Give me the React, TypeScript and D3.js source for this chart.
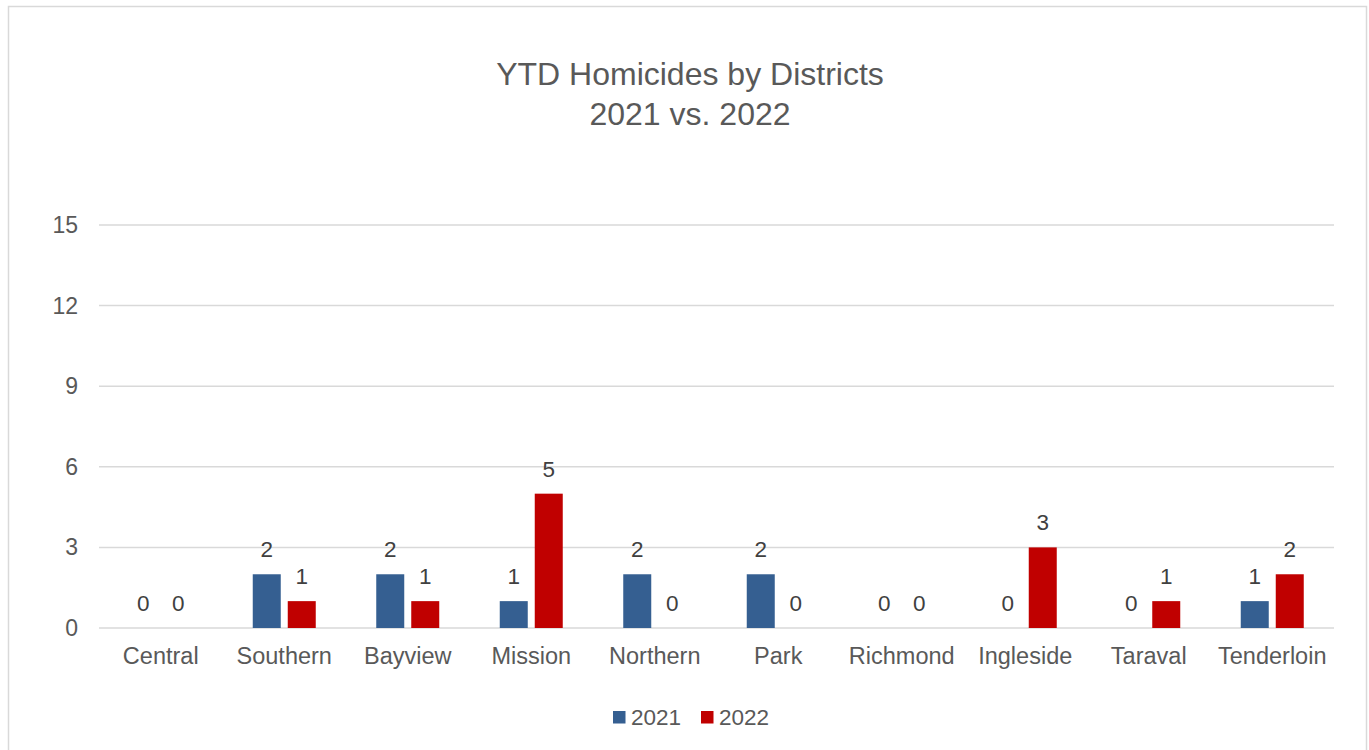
import React from "react";
import * as d3 from "d3";

const categories = ["Central", "Southern", "Bayview", "Mission", "Northern", "Park", "Richmond", "Ingleside", "Taraval", "Tenderloin"];
const series2021 = [0, 2, 2, 1, 2, 2, 0, 0, 0, 1];
const series2022 = [0, 1, 1, 5, 0, 0, 0, 3, 1, 2];
const yTicks = [0, 3, 6, 9, 12, 15];
const seriesNames = ["2021", "2022"];
const colors = ["#355F91", "#C00000"];

export default function App() {
  const W = 1369, H = 750;
  const x0 = 99, x1 = 1334;
  const y = d3.scaleLinear().domain([0, 15]).range([628, 225]);
  const x = d3.scaleBand<string>().domain(categories).range([x0, x1]).paddingInner(0).paddingOuter(0);
  const barW = 28, gap = 7;
  const font = "'Liberation Sans', Arial, sans-serif";
  const allSeries = [series2021, series2022];
  return (
    <svg width={W} height={H} style={{ position: "absolute", left: 0, top: 0 }} fontFamily={font}>
      <rect x={0} y={0} width={W} height={H} fill="#fff" />
      <rect x={8.5} y={6.5} width={1358} height={760} fill="#fff" stroke="#D9D9D9" strokeWidth={1.5} />
      <text x={690} y={85} textAnchor="middle" fontSize={32} fill="#595959">YTD Homicides by Districts</text>
      <text x={690} y={125} textAnchor="middle" fontSize={32} fill="#595959">2021 vs. 2022</text>
      {yTicks.map((t) => (
        <g key={t}>
          <line x1={x0} x2={x1} y1={y(t)} y2={y(t)} stroke="#D9D9D9" strokeWidth={1.5} />
          <text x={78} y={y(t) + 8} textAnchor="end" fontSize={23} fill="#595959">{t}</text>
        </g>
      ))}
      {categories.map((c, i) => {
        const cx = (x(c) as number) + x.bandwidth() / 2;
        return (
          <g key={c}>
            {allSeries.map((s, k) => {
              const bx = k === 0 ? cx - gap / 2 - barW : cx + gap / 2;
              const v = s[i];
              return (
                <g key={k}>
                  {v > 0 && <rect x={bx} y={y(v)} width={barW} height={y(0) - y(v)} fill={colors[k]} />}
                  <text x={bx + barW / 2} y={y(v) - 17} textAnchor="middle" fontSize={22.5} fill="#404040">{v}</text>
                </g>
              );
            })}
            <text x={cx} y={664} textAnchor="middle" fontSize={23.5} fill="#595959">{c}</text>
          </g>
        );
      })}
      {seriesNames.map((n, k) => {
        const lx = k === 0 ? 613 : 701;
        return (
          <g key={n}>
            <rect x={lx} y={711} width={12.5} height={12.5} fill={colors[k]} />
            <text x={lx + 18} y={725} fontSize={22.5} fill="#595959">{n}</text>
          </g>
        );
      })}
    </svg>
  );
}
